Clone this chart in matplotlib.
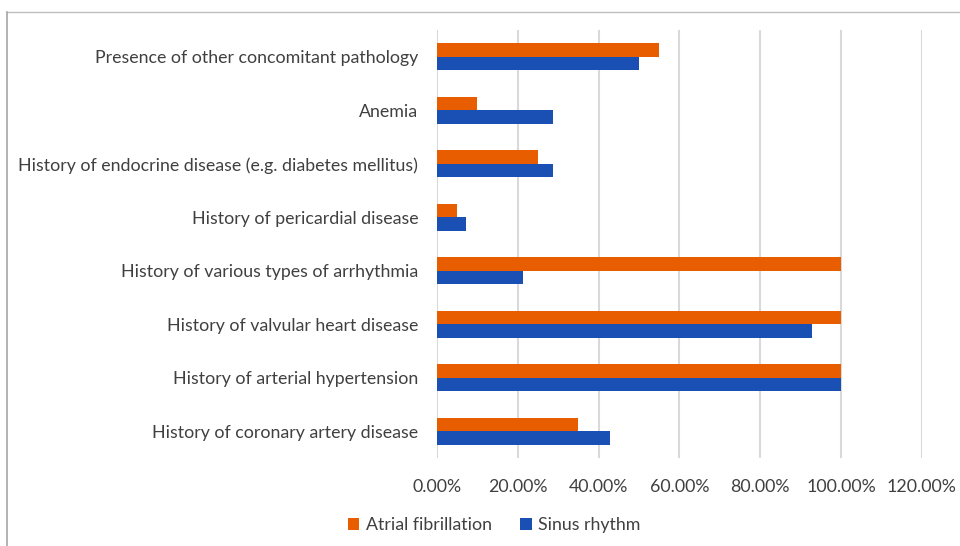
import numpy as np
import matplotlib
matplotlib.use("Agg")
import matplotlib.pyplot as plt
from matplotlib.lines import Line2D
from matplotlib.ticker import FuncFormatter

# categories listed bottom -> top
categories = ["History of coronary artery disease",
              "History of arterial hypertension",
              "History of valvular heart disease",
              "History of various types of arrhythmia",
              "History of pericardial disease",
              "History of endocrine disease (e.g. diabetes mellitus)",
              "Anemia",
              "Presence of other concomitant pathology"]
atrial_fib = [35.0, 100.0, 100.0, 100.0, 5.0, 25.0, 10.0, 55.0]
sinus_rhythm = [42.9, 100.0, 92.9, 21.4, 7.1, 28.6, 28.6, 50.0]
x_ticks = [0, 20, 40, 60, 80, 100, 120]

orange = "#E85D00"
blue = "#1A4FB4"
txt = "#404040"

plt.rcParams['font.family'] = ['Lato', 'DejaVu Sans']

fig = plt.figure(figsize=(9.6, 5.46), dpi=100)
ax = fig.add_axes([437/960, 1-458/546, (921.7-437)/960, (458-30)/546])

y = np.arange(len(categories))
h = 0.25
ax.barh(y + h/2, atrial_fib, height=h, color=orange, label="Atrial fibrillation", zorder=3)
ax.barh(y - h/2, sinus_rhythm, height=h, color=blue, label="Sinus rhythm", zorder=3)

ax.set_xlim(0, 120)
ax.set_ylim(-0.5, len(categories) - 0.5)
ax.set_xticks(x_ticks)
ax.xaxis.set_major_formatter(FuncFormatter(lambda v, p: "%.2f%%" % v))
ax.set_yticks(y)
ax.set_yticklabels(categories)
ax.tick_params(axis='both', length=0, colors=txt, labelsize=12.8)
ax.tick_params(axis='y', pad=13.5)
ax.tick_params(axis='x', pad=15)
ax.grid(axis='x', color="#D9D9D9", linewidth=1.5, zorder=0)
for s in ax.spines.values():
    s.set_visible(False)

# outer chart frame (cut off at right and bottom)
fig.add_artist(Line2D([7/960, 1.0], [1-12/546, 1-12/546], color="#BFBFBF", lw=1))
fig.add_artist(Line2D([7/960, 7/960], [0.0, 1-12/546], color="#A6A6A6", lw=1.2))

leg = fig.legend(loc='center', bbox_to_anchor=(494/960, 1-525/546), ncol=2, frameon=False,
                 fontsize=12.8, handlelength=0.65, handleheight=0.65, handletextpad=0.35,
                 columnspacing=1.6)
for t in leg.get_texts():
    t.set_color(txt)

fig.savefig("out.png", dpi=100)
